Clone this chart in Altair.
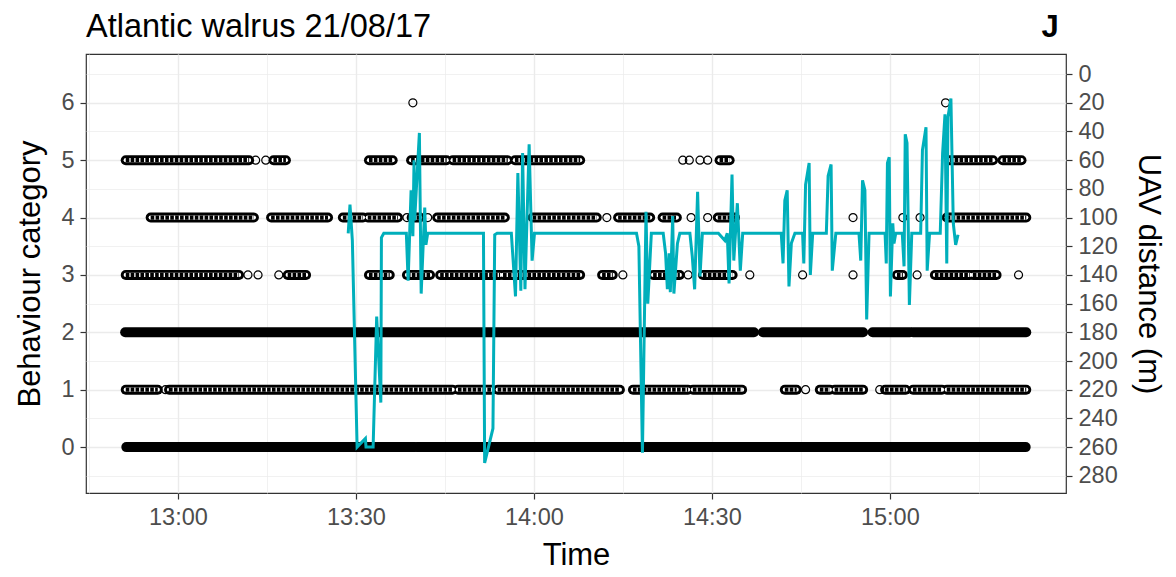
import altair as alt
import pandas as pd

# ---- data (times are minutes after 12:00) ----
# continuous runs of observations per behaviour category: (start, end)
runs = {
    0: [(51.3, 99.9), (100.3, 202.9)],
    1: [(51.2, 56.6), (58.5, 106.3), (107.2, 112.9), (113.9, 134.5), (136.7, 146.0),
        (146.8, 155.1), (162.3, 164.3), (168.2, 169.9), (170.7, 175.5), (179.2, 182.7),
        (183.9, 188.8), (189.6, 203.0)],
    2: [(51.1, 157.1), (158.6, 175.5), (177.1, 183.4), (183.9, 203.0)],
    3: [(51.2, 70.3), (78.5, 81.6), (92.2, 95.7), (98.6, 102.5), (104.2, 114.3),
        (114.8, 127.8), (131.5, 133.3), (140.1, 144.6), (148.5, 153.5), (181.2, 182.2),
        (187.6, 193.5), (194.0, 198.0)],
    4: [(55.4, 72.8), (75.7, 85.3), (87.8, 91.2), (92.0, 97.1), (99.4, 100.8),
        (103.7, 115.1), (119.8, 130.6), (134.2, 139.6), (141.7, 144.1), (151.0, 153.9),
        (189.6, 203.0)],
    5: [(51.2, 72.0), (76.1, 78.2), (92.2, 96.2), (99.3, 105.3), (106.3, 115.6),
        (116.8, 127.8), (151.3, 153.0), (190.1, 197.4), (199.0, 202.2)],
}
# isolated observations per behaviour category
singles = {
    1: [57.9, 165.8, 178.3],
    3: [71.8, 73.5, 77.0, 135.0, 146.0, 156.4, 165.3, 173.8, 184.6, 201.7],
    4: [98.6, 102.1, 132.3, 146.5, 149.3, 173.8, 182.2, 185.1],
    5: [73.1, 74.8, 145.1, 146.2, 148.0, 149.3],
    6: [99.6, 189.4],
}
# categories whose runs are less densely packed (drawn as chains of circles)
sparse_cats = [1, 3, 4, 5]

# UAV distance (m) over time
line_t = [88.7, 89.0, 89.4, 90.2, 91.6, 91.7, 92.9, 93.5, 94.2, 94.3, 94.7, 98.5, 98.8,
          99.3, 99.6, 99.8, 99.9, 100.7, 101.0, 101.6, 101.8, 102.1, 111.5, 111.7, 113.1,
          113.4, 113.8, 116.2, 116.9, 117.3, 117.8, 118.1, 118.5, 119.2, 119.7, 120.1,
          137.0, 137.3, 137.7, 138.3, 138.9, 139.2, 139.8, 141.8, 142.2, 142.5, 142.8,
          143.0, 143.4, 143.6, 144.2, 144.6, 146.3, 146.7, 147.1, 147.6, 148.0, 148.4,
          151.1, 152.2, 152.6, 152.9, 153.4, 153.7, 154.3, 154.8, 155.2, 161.7, 162.0,
          162.3, 162.7, 163.0, 163.4, 164.0, 165.3, 165.5, 165.8, 166.4, 166.6, 167.0,
          169.3, 169.6, 170.1, 170.3, 170.9, 174.8, 175.1, 175.4, 175.8, 176.1, 176.5,
          179.2, 179.4, 179.6, 179.9, 180.1, 180.5, 180.7, 181.0, 182.1, 182.4, 182.6,
          182.9, 183.3, 183.7, 185.2, 185.5, 186.1, 186.3, 186.7, 188.5, 188.9, 189.3,
          189.6, 189.8, 190.3, 190.7, 191.1, 191.5]
line_d = [111, 91, 116, 260, 254, 260, 260, 169, 229, 114, 111, 111, 144,
          81, 113, 60, 102, 41, 153, 93, 119, 111, 111, 271, 247,
          112, 111, 111, 155, 69, 151, 55, 150, 49, 130, 111,
          111, 111, 120, 264, 96, 160, 111, 111, 125, 150, 125,
          152, 99, 153, 118, 111, 111, 127, 150, 82, 141, 111,
          111, 116, 111, 146, 70, 130, 90, 137, 111, 111, 132,
          88, 81, 148, 118, 111, 111, 132, 77, 62, 140, 111,
          111, 71, 63, 137, 111, 111, 130, 74, 81, 171, 111,
          111, 132, 62, 58, 155, 104, 118, 111, 111, 134, 42,
          48, 161, 111, 111, 53, 37, 137, 111, 111, 55, 28,
          132, 30, 17, 104, 119, 112]

y_ticks = [-0.5, 0, 0.5, 1, 1.5, 2, 2.5, 3, 3.5, 4, 4.5, 5, 5.5, 6, 6.5]
x_ticks = [45, 60, 75, 90, 105, 120, 135, 150, 165, 180, 195]
dist_ticks = list(range(0, 281, 20))

title_text = "Atlantic walrus 21/08/17"
panel_tag = "J"

# ---- tables ----
runs_df = pd.DataFrame([{"cat": c, "start": s, "end": e, "sparse": c in sparse_cats}
                        for c, rr in runs.items() for s, e in rr])
sparse_df = runs_df[runs_df["sparse"]]
pts_df = pd.DataFrame([{"cat": c, "t": t} for c, tt in singles.items() for t in tt])
line_df = pd.DataFrame({"t": line_t, "dist": line_d})

FONT = "Liberation Sans"
X_DOM = [44.5, 209.7]
Y_DOM = [-0.8, 6.85]
D_DOM = [-14, 292]

x_axis = alt.Axis(
    values=x_ticks,
    labelExpr="datum.value % 30 === 0 ? (floor(datum.value/60) + 12) + ':' + (datum.value % 60 === 0 ? '00' : '30') : ''",
    gridWidth={"condition": {"test": "datum.value % 30 === 0", "value": 1.4}, "value": 0.7},
    tickOpacity={"condition": {"test": "datum.value % 30 === 0", "value": 1}, "value": 0},
    title="Time", titlePadding=12,
)
x_scale = alt.Scale(domain=X_DOM, nice=False, zero=False)

y_axis = alt.Axis(
    values=y_ticks,
    labelExpr="datum.value % 1 === 0 ? format(datum.value, 'd') : ''",
    gridWidth={"condition": {"test": "datum.value % 1 === 0", "value": 1.4}, "value": 0.7},
    tickOpacity={"condition": {"test": "datum.value % 1 === 0", "value": 1}, "value": 0},
    title="Behaviour category", titlePadding=14,
    orient="left",
)
y_scale = alt.Scale(domain=Y_DOM, nice=False, zero=False)


def run_marks(df, width, color, dash=None, axis=None):
    kw = dict(color=color, strokeWidth=width, strokeCap="round")
    if dash is not None:
        kw["strokeDash"] = dash
        kw["strokeCap"] = "butt"
    return alt.Chart(df).mark_rule(**kw).encode(
        x=alt.X("start:Q", scale=x_scale, axis=x_axis),
        x2="end:Q",
        y=alt.Y("cat:Q", scale=y_scale, axis=axis),
    )


run_layer = run_marks(runs_df, 10, "black", axis=y_axis)
run_inner = run_marks(sparse_df, 4.2, "white")
run_chain = run_marks(sparse_df, 4.2, "black", dash=[3.6, 1.3])

pt_layer = alt.Chart(pts_df).mark_point(shape="circle", filled=False, size=64, color="black",
                                         strokeWidth=1.2, opacity=1).encode(
    x=alt.X("t:Q", scale=x_scale, axis=x_axis),
    y=alt.Y("cat:Q", scale=y_scale, axis=None),
)

line_layer = alt.Chart(line_df).mark_line(color="#00AFBB", strokeWidth=3).encode(
    x=alt.X("t:Q", scale=x_scale, axis=x_axis),
    y=alt.Y("dist:Q", scale=alt.Scale(domain=D_DOM, reverse=True, nice=False, zero=False),
            axis=alt.Axis(values=dist_ticks, orient="right", grid=False, title="UAV distance (m)",
                          format="d", titlePadding=14)),
)

title_mark = alt.Chart(pd.DataFrame({"lab": [title_text]})).mark_text(
    font=FONT, fontSize=32.5, align="left", baseline="alphabetic", color="black"
).encode(text="lab:N", x=alt.value(0), y=alt.value(-17))

tag = alt.Chart(pd.DataFrame({"lab": [panel_tag]})).mark_text(
    font=FONT, fontSize=31, fontWeight="bold", align="center", baseline="alphabetic", color="black"
).encode(text="lab:N", x=alt.value(964), y=alt.value(-17))

chart = alt.layer(run_layer, run_inner, run_chain, pt_layer, line_layer, title_mark, tag).resolve_scale(
    y="independent"
).properties(
    width=980, height=439,
    autosize=alt.AutoSizeParams(type="none"),
    padding={"left": 86, "top": 54, "right": 110, "bottom": 84},
    background="white",
).configure_view(stroke="#333333", strokeWidth=1.2).configure_axis(
    labelFont=FONT, labelFontSize=23.5, labelColor="#4D4D4D",
    titleFont=FONT, titleFontSize=31, titleFontWeight="normal", titleColor="black",
    tickColor="#333333", tickSize=6, tickWidth=1.2, domain=False,
    gridColor="#EBEBEB", labelPadding=6,
)

chart.save("out.html", embed_options={"renderer": "svg", "actions": False})
